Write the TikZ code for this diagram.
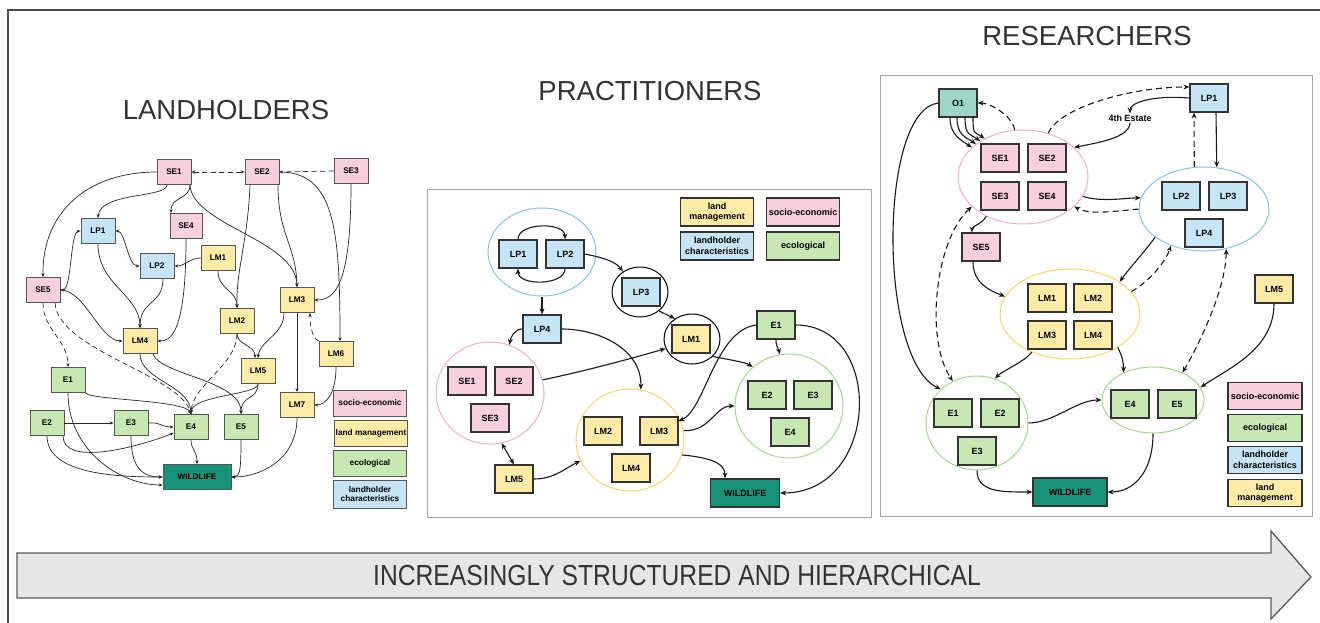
\documentclass[tikz,border=0pt]{standalone}
\usepackage{fontspec}
\setmainfont{Liberation Sans}
\usetikzlibrary{shapes.geometric,arrows.meta}
\definecolor{pinkF}{HTML}{F8CFDC}
\definecolor{blueF}{HTML}{C5E4F6}
\definecolor{yelF}{HTML}{FEEBA6}
\definecolor{grnF}{HTML}{C7E8B2}
\definecolor{wildF}{HTML}{17937A}
\definecolor{tealF}{HTML}{9DD6C9}
\definecolor{pinkE}{HTML}{F3AFC6}
\definecolor{blueE}{HTML}{86C1E8}
\definecolor{yelE}{HTML}{F7D36B}
\definecolor{grnE}{HTML}{A3D888}
\definecolor{bordL}{HTML}{555555}
\definecolor{bordM}{HTML}{333333}
\definecolor{titleC}{HTML}{333333}
\definecolor{arrF}{HTML}{E6E6E6}
\tikzset{
  lbx/.style={draw=bordL, line width=0.9pt, minimum width=34pt, minimum height=25pt, inner sep=0pt, font=\bfseries\fontsize{8.2}{9.5}\selectfont},
  lleg/.style={lbx, minimum width=73pt, minimum height=26pt, align=center, font=\bfseries\fontsize{8.3}{9.8}\selectfont},
  mbx/.style={draw=bordM, line width=1.2pt, minimum width=38pt, minimum height=28pt, inner sep=0pt, font=\bfseries\fontsize{9}{10.5}\selectfont},
  mleg/.style={mbx, minimum width=73pt, minimum height=28pt, align=center},
  cir/.style={ellipse, line width=1pt, inner sep=0pt},
  ttl/.style={font=\fontsize{27.5}{30}\selectfont, text=titleC, inner sep=0pt},
  le/.style={line width=0.7pt, draw=black!85, ->},
  led/.style={le, dash pattern=on 5pt off 3.5pt},
  me/.style={line width=1.1pt, draw=black!90, ->},
  med/.style={me, dash pattern=on 6pt off 4pt}
}
\begin{document}
\begin{tikzpicture}[x=1pt,y=-1pt]
\useasboundingbox (0,0) rectangle (1320,623);
\fill[white] (0,0) rectangle (1320,623);
% outer frame
\draw[black!70, line width=1.5pt] (1320,10) -- (8,10) -- (8,623);
% titles
\node[ttl] (tL) at (226,110) {LANDHOLDERS};
\node[ttl] (tP) at (650,91) {PRACTITIONERS};
\node[ttl] (tR) at (1087,36) {RESEARCHERS};
% big arrow
\draw[fill=arrF, draw=black!65, line width=1.3pt] (17,553) -- (1271,553) -- (1271,531) -- (1311,577) -- (1271,619) -- (1271,598) -- (17,598) -- cycle;
\node[font=\fontsize{29}{32}\selectfont, text=titleC, inner sep=0pt] (arrT) at (677,576) {\scalebox{0.85}[1]{INCREASINGLY STRUCTURED AND HIERARCHICAL}};

%================ LANDHOLDERS ================
\begin{scope}[>={Stealth[length=3.8pt,width=3.2pt]}]
\node[lbx,fill=pinkF] (lSE1) at (174,172) {SE1};
\node[lbx,fill=pinkF] (lSE2) at (262,172) {SE2};
\node[lbx,fill=pinkF] (lSE3) at (351,171) {SE3};
\node[lbx,fill=pinkF,minimum width=32pt] (lSE4) at (186,226) {SE4};
\node[lbx,fill=blueF] (lLP1) at (98,231) {LP1};
\node[lbx,fill=blueF] (lLP2) at (157,266) {LP2};
\node[lbx,fill=yelF] (lLM1) at (218,258) {LM1};
\node[lbx,fill=pinkF] (lSE5) at (43,290) {SE5};
\node[lbx,fill=yelF] (lLM3) at (297,300) {LM3};
\node[lbx,fill=yelF] (lLM2) at (237,321) {LM2};
\node[lbx,fill=yelF] (lLM4) at (140,341) {LM4};
\node[lbx,fill=yelF] (lLM6) at (336,354) {LM6};
\node[lbx,fill=yelF] (lLM5) at (258,371) {LM5};
\node[lbx,fill=grnF] (lE1) at (68,380) {E1};
\node[lbx,fill=yelF] (lLM7) at (297,405) {LM7};
\node[lbx,fill=grnF] (lE2) at (47,423) {E2};
\node[lbx,fill=grnF] (lE3) at (131,423) {E3};
\node[lbx,fill=grnF] (lE4) at (191,427) {E4};
\node[lbx,fill=grnF] (lE5) at (241,427) {E5};
\node[lbx,fill=wildF,minimum width=68pt] (lW) at (197,477) {WILDLIFE};
\node[lleg,fill=pinkF] (lg1) at (370,403) {socio-economic};
\node[lleg,fill=yelF] (lg2) at (371,433) {land management};
\node[lleg,fill=grnF] (lg3) at (370,463) {ecological};
\node[lleg,fill=blueF,minimum height=28pt] (lg4) at (370,494) {landholder\\characteristics};

\draw[led,<->] (lSE1.east) -- (lSE2.west);
\draw[led] (lSE3.west) -- (lSE2.east);
\draw[le] (lSE1.west) .. controls (90,172) and (42,210) .. (lSE5.north);
\draw[le] ([xshift=-7pt]lSE1.south) .. controls (167,198) and (100,192) .. (lLP1.north);
\draw[le] ([xshift=16pt]lSE1.south) .. controls (190,200) and (171,196) .. ([xshift=-15pt]lSE4.north);
\draw[le] ([xshift=16pt]lSE1.south) .. controls (192,225) and (296,240) .. (lLM3.north);
\draw[le] ([xshift=-12pt]lSE2.south) .. controls (248,240) and (236,270) .. (lLM2.north);
\draw[le] ([xshift=16pt]lSE2.south) .. controls (278,235) and (296,245) .. (lLM3.north);
\draw[le] (lSE2.east) .. controls (335,172) and (340,230) .. ([xshift=4pt]lLM6.north);
\draw[le] (lSE3.south) .. controls (351,285) and (335,300) .. (lLM3.east);
\draw[le,<->] (lLP1.west) .. controls (70,232) and (72,290) .. (lSE5.east);
\draw[le,<->] (lLP1.east) .. controls (125,231) and (128,266) .. (lLP2.west);
\draw[le] (lLM1.west) .. controls (190,258) and (185,266) .. (lLP2.east);
\draw[le] (lLP1.south) .. controls (98,285) and (140,295) .. (lLM4.north);
\draw[le] ([xshift=6pt]lLP2.south) .. controls (163,305) and (140,300) .. (lLM4.north);
\draw[le] (lSE4.south) .. controls (186,335) and (170,341) .. (lLM4.east);
\draw[le] (lSE5.east) .. controls (85,290) and (100,341) .. (lLM4.west);
\draw[le] (lLM1.south) .. controls (218,290) and (237,290) .. (lLM2.north);
\draw[led] (lSE5.south) .. controls (43,330) and (68,340) .. (lE1.north);
\draw[led] ([xshift=12pt]lSE5.south) .. controls (58,350) and (180,375) .. (lE4.north);
\draw[led] (lLM2.south) .. controls (237,365) and (192,385) .. (lE4.north);
\draw[le] (lLM2.south) .. controls (237,345) and (255,345) .. ([xshift=-3pt]lLM5.north);
\draw[le] ([xshift=-13pt]lLM3.south) .. controls (284,335) and (260,340) .. (lLM5.north);
\draw[le] (lLM3.south) -- (lLM7.north);
\draw[led] (lLM6.north west) .. controls (312,338) and (310,325) .. ([xshift=13pt]lLM3.south);
\draw[le] (lLM6.south) .. controls (336,395) and (325,405) .. (lLM7.east);
\draw[le] (lLM4.south) .. controls (140,380) and (190,385) .. (lE4.north);
\draw[le] ([xshift=13pt]lLM4.south) .. controls (160,375) and (241,380) .. (lE5.north);
\draw[le] (lLM5.south) .. controls (258,395) and (192,395) .. (lE4.north);
\draw[le] (lLM5.south) .. controls (258,400) and (241,395) .. (lE5.north);
\draw[le] (lE1.south east) .. controls (90,400) and (185,400) .. (lE4.north);
\draw[le] (lE1.south) .. controls (68,450) and (120,485) .. ([yshift=-8pt]lW.west);
\draw[le] (lE2.east) -- (lE3.west);
\draw[le] (lE2.south) .. controls (47,475) and (120,477) .. (lW.west);
\draw[le] ([xshift=16pt]lE2.south) .. controls (63,465) and (130,450) .. ([yshift=-6pt]lE4.west);
\draw[le] (lE3.east) .. controls (160,422) and (162,427) .. (lE4.west);
\draw[le] (lE3.south) .. controls (131,465) and (140,477) .. (lW.west);
\draw[le] (lE4.south) .. controls (191,450) and (197,450) .. (lW.north);
\draw[le] (lE5.south) .. controls (241,470) and (240,477) .. (lW.east);
\draw[le] (lLM7.south) .. controls (297,460) and (260,477) .. (lW.east);
\end{scope}

%================ PRACTITIONERS ================
\begin{scope}[>={Stealth[length=6pt,width=5pt]}]
\draw[black!35, line width=0.9pt] (427,189) rectangle (871,517);
\node[cir,draw=blueE,minimum width=108pt,minimum height=88pt] (mcBlue) at (542,252) {};
\node[cir,draw=black,minimum width=56pt,minimum height=50pt] (mcLP3) at (640,292) {};
\node[cir,draw=black,minimum width=56pt,minimum height=50pt] (mcLM1) at (692,339) {};
\node[cir,draw=pinkE,minimum width=108pt,minimum height=102pt] (mcPink) at (490,393) {};
\node[cir,draw=grnE,minimum width=108pt,minimum height=104pt] (mcGrn) at (789,406) {};
\node[cir,draw=yelE,minimum width=108pt,minimum height=102pt] (mcYel) at (630,440) {};
\node[mbx,fill=blueF] (mLP1) at (518,254) {LP1};
\node[mbx,fill=blueF] (mLP2) at (565,254) {LP2};
\node[mbx,fill=blueF] (mLP3) at (641,292) {LP3};
\node[mbx,fill=yelF] (mLM1) at (691,339) {LM1};
\node[mbx,fill=blueF] (mLP4) at (542,329) {LP4};
\node[mbx,fill=pinkF] (mSE1) at (467,381) {SE1};
\node[mbx,fill=pinkF] (mSE2) at (514,381) {SE2};
\node[mbx,fill=pinkF] (mSE3) at (490,418) {SE3};
\node[mbx,fill=grnF] (mE1) at (776,325) {E1};
\node[mbx,fill=grnF] (mE2) at (767,395) {E2};
\node[mbx,fill=grnF] (mE3) at (813,395) {E3};
\node[mbx,fill=grnF] (mE4) at (790,432) {E4};
\node[mbx,fill=yelF] (mLM2) at (603,431) {LM2};
\node[mbx,fill=yelF] (mLM3) at (659,431) {LM3};
\node[mbx,fill=yelF] (mLM4) at (631,468) {LM4};
\node[mbx,fill=yelF] (mLM5) at (514,479) {LM5};
\node[mbx,fill=wildF,minimum width=69pt] (mW) at (745,493) {WILDLIFE};
\node[mleg,fill=yelF] (mg1) at (717,212) {land\\management};
\node[mleg,fill=pinkF] (mg2) at (803,212) {socio-economic};
\node[mleg,fill=blueF] (mg3) at (717,246) {landholder\\characteristics};
\node[mleg,fill=grnF] (mg4) at (803,246) {ecological};

\draw[me] (mLP1.north) .. controls (518,222) and (565,222) .. (mLP2.north);
\draw[me] (mLP2.south) .. controls (565,286) and (518,286) .. (mLP1.south);
\draw[me] (mLP2.east) .. controls (605,258) and (616,262) .. (mcLP3.130);
\draw[me] (mcBlue.south) -- (mLP4.north);
\draw[me] (mcLP3.-45) -- (mcLM1.130);
\draw[me] (mLP4.west) .. controls (515,329) and (511,336) .. (mcPink.68);
\draw[me] (mLP4.east) .. controls (600,329) and (642,350) .. (mcYel.78);
\draw[me] (mcPink.14) .. controls (590,370) and (640,356) .. (mcLM1.200);
\draw[me] (mcLM1.-40) .. controls (730,360) and (745,362) .. (mcGrn.133);
\draw[me] (mE1.west) .. controls (715,330) and (705,410) .. ([yshift=10pt]mLM3.east);
\draw[me] (mE1.south) .. controls (776,347) and (778,347) .. (mcGrn.100);
\draw[me] (mE1.east) .. controls (885,325) and (880,493) .. (mW.east);
\draw[me] (mcYel.10) .. controls (710,432) and (715,406) .. (mcGrn.west);
\draw[me] (mcYel.-16) .. controls (715,458) and (725,465) .. ([xshift=-20pt]mW.north);
\draw[me,<->] (mcPink.-77) -- (mLM5.north);
\draw[me] (mLM5.east) .. controls (555,479) and (565,468) .. (mcYel.203);
\end{scope}

%================ RESEARCHERS ================
\begin{scope}[>={Stealth[length=6pt,width=5pt]}]
\draw[black!35, line width=0.9pt] (880,75) rectangle (1312,516);
\node[cir,draw=pinkE,minimum width=130pt,minimum height=94pt] (rcPink) at (1023,177) {};
\node[cir,draw=blueE,minimum width=130pt,minimum height=84pt] (rcBlue) at (1204,209) {};
\node[cir,draw=yelE,minimum width=140pt,minimum height=90pt] (rcYel) at (1070,314) {};
\node[cir,draw=grnE,minimum width=102pt,minimum height=94pt] (rcGL) at (977,423) {};
\node[cir,draw=grnE,minimum width=102pt,minimum height=66pt] (rcGR) at (1153,400) {};
\node[mbx,fill=tealF] (rO1) at (958,103) {O1};
\node[mbx,fill=blueF] (rLP1) at (1209,98) {LP1};
\node[font=\bfseries\fontsize{9}{10}\selectfont, inner sep=1pt] (r4th) at (1130,118) {4th Estate};
\node[mbx,fill=pinkF] (rSE1) at (1000,158) {SE1};
\node[mbx,fill=pinkF] (rSE2) at (1047,158) {SE2};
\node[mbx,fill=pinkF] (rSE3) at (1000,196) {SE3};
\node[mbx,fill=pinkF] (rSE4) at (1047,196) {SE4};
\node[mbx,fill=blueF] (rLP2) at (1181,196) {LP2};
\node[mbx,fill=blueF] (rLP3) at (1228,196) {LP3};
\node[mbx,fill=blueF] (rLP4) at (1204,233) {LP4};
\node[mbx,fill=pinkF] (rSE5) at (981,247) {SE5};
\node[mbx,fill=yelF] (rLM1) at (1047,298) {LM1};
\node[mbx,fill=yelF] (rLM2) at (1093,298) {LM2};
\node[mbx,fill=yelF] (rLM3) at (1047,335) {LM3};
\node[mbx,fill=yelF] (rLM4) at (1093,335) {LM4};
\node[mbx,fill=yelF] (rLM5) at (1274,289) {LM5};
\node[mbx,fill=grnF] (rE1) at (953,413) {E1};
\node[mbx,fill=grnF] (rE2) at (1000,413) {E2};
\node[mbx,fill=grnF] (rE3) at (977,451) {E3};
\node[mbx,fill=grnF] (rE4) at (1130,404) {E4};
\node[mbx,fill=grnF] (rE5) at (1177,404) {E5};
\node[mbx,fill=wildF,minimum width=74pt] (rW) at (1070,492) {WILDLIFE};
\node[mleg,fill=pinkF,minimum width=74pt,minimum height=27pt] (rg1) at (1265,396) {socio-economic};
\node[mleg,fill=grnF,minimum width=74pt,minimum height=27pt] (rg2) at (1265,428) {ecological};
\node[mleg,fill=blueF,minimum width=74pt,minimum height=27pt] (rg3) at (1265,460) {landholder\\characteristics};
\node[mleg,fill=yelF,minimum width=74pt,minimum height=27pt] (rg4) at (1265,493) {land\\management};

\foreach \dx/\a in {-8/150,-1/145,7/140,15/135}
  \draw[me] ([xshift=\dx pt]rO1.south) .. controls +(0,18) and +(-10,-7) .. (rcPink.\a);
\draw[med] (rcPink.100) .. controls +(-3,-15) and +(12,0) .. (rO1.east);
\draw[me] (rO1.west) .. controls (878,110) and (878,360) .. (rcGL.137);
\draw[med] (rcPink.60) .. controls +(10,-25) and +(-60,0) .. ([yshift=11pt]rLP1.west);
\draw[me] (rLP1.west) .. controls +(-40,-3) and +(0,-10) .. (r4th.north);
\draw[me] (r4th.south) .. controls +(0,15) and +(25,-5) .. (rcPink.30);
\draw[me] ([xshift=7pt]rLP1.south) -- (rcBlue.73);
\draw[med] (rcBlue.103) -- ([xshift=-15pt]rLP1.south);
\draw[me] (rcPink.-18) .. controls +(20,6) and +(-15,0) .. (rcBlue.170);
\draw[med] (rcBlue.west) .. controls +(-30,3) and +(15,8) .. (rcPink.-30);
\draw[me] (rcPink.-133) .. controls +(-5,8) and +(0,-6) .. ([xshift=-9pt]rSE5.north);
\draw[me] ([xshift=-8pt]rSE5.south) .. controls +(0,22) and +(-15,-6) .. (rcYel.165);
\draw[me] (rcBlue.-150) .. controls +(-10,14) and +(10,-14) .. (rcYel.33);
\draw[med] (rcYel.20) .. controls +(20,-12) and +(-5,15) .. (rcBlue.-132);
\draw[med,<->] (rcBlue.-61) .. controls +(0,40) and +(15,-25) .. (rcGR.43);
\draw[med,<->] (rcPink.-150) .. controls +(-37,34) and +(-28,-41) .. (rcGL.120);
\draw[me] (rcYel.-135) .. controls +(-8,10) and +(8,-8) .. (rcGL.68);
\draw[me] (rcYel.-35) .. controls +(5,10) and +(0,-10) .. (rcGR.137);
\draw[me] (rLM5.south) .. controls +(0,45) and +(30,-20) .. (rcGR.15);
\draw[me] (rcGL.east) .. controls +(25,0) and +(-25,0) .. (rcGR.west);
\draw[me] (rcGL.south) .. controls +(0,22) and +(-30,0) .. (rW.west);
\draw[me] (rcGR.south) .. controls +(0,40) and +(25,0) .. (rW.east);
\end{scope}
\end{tikzpicture}
\end{document}
